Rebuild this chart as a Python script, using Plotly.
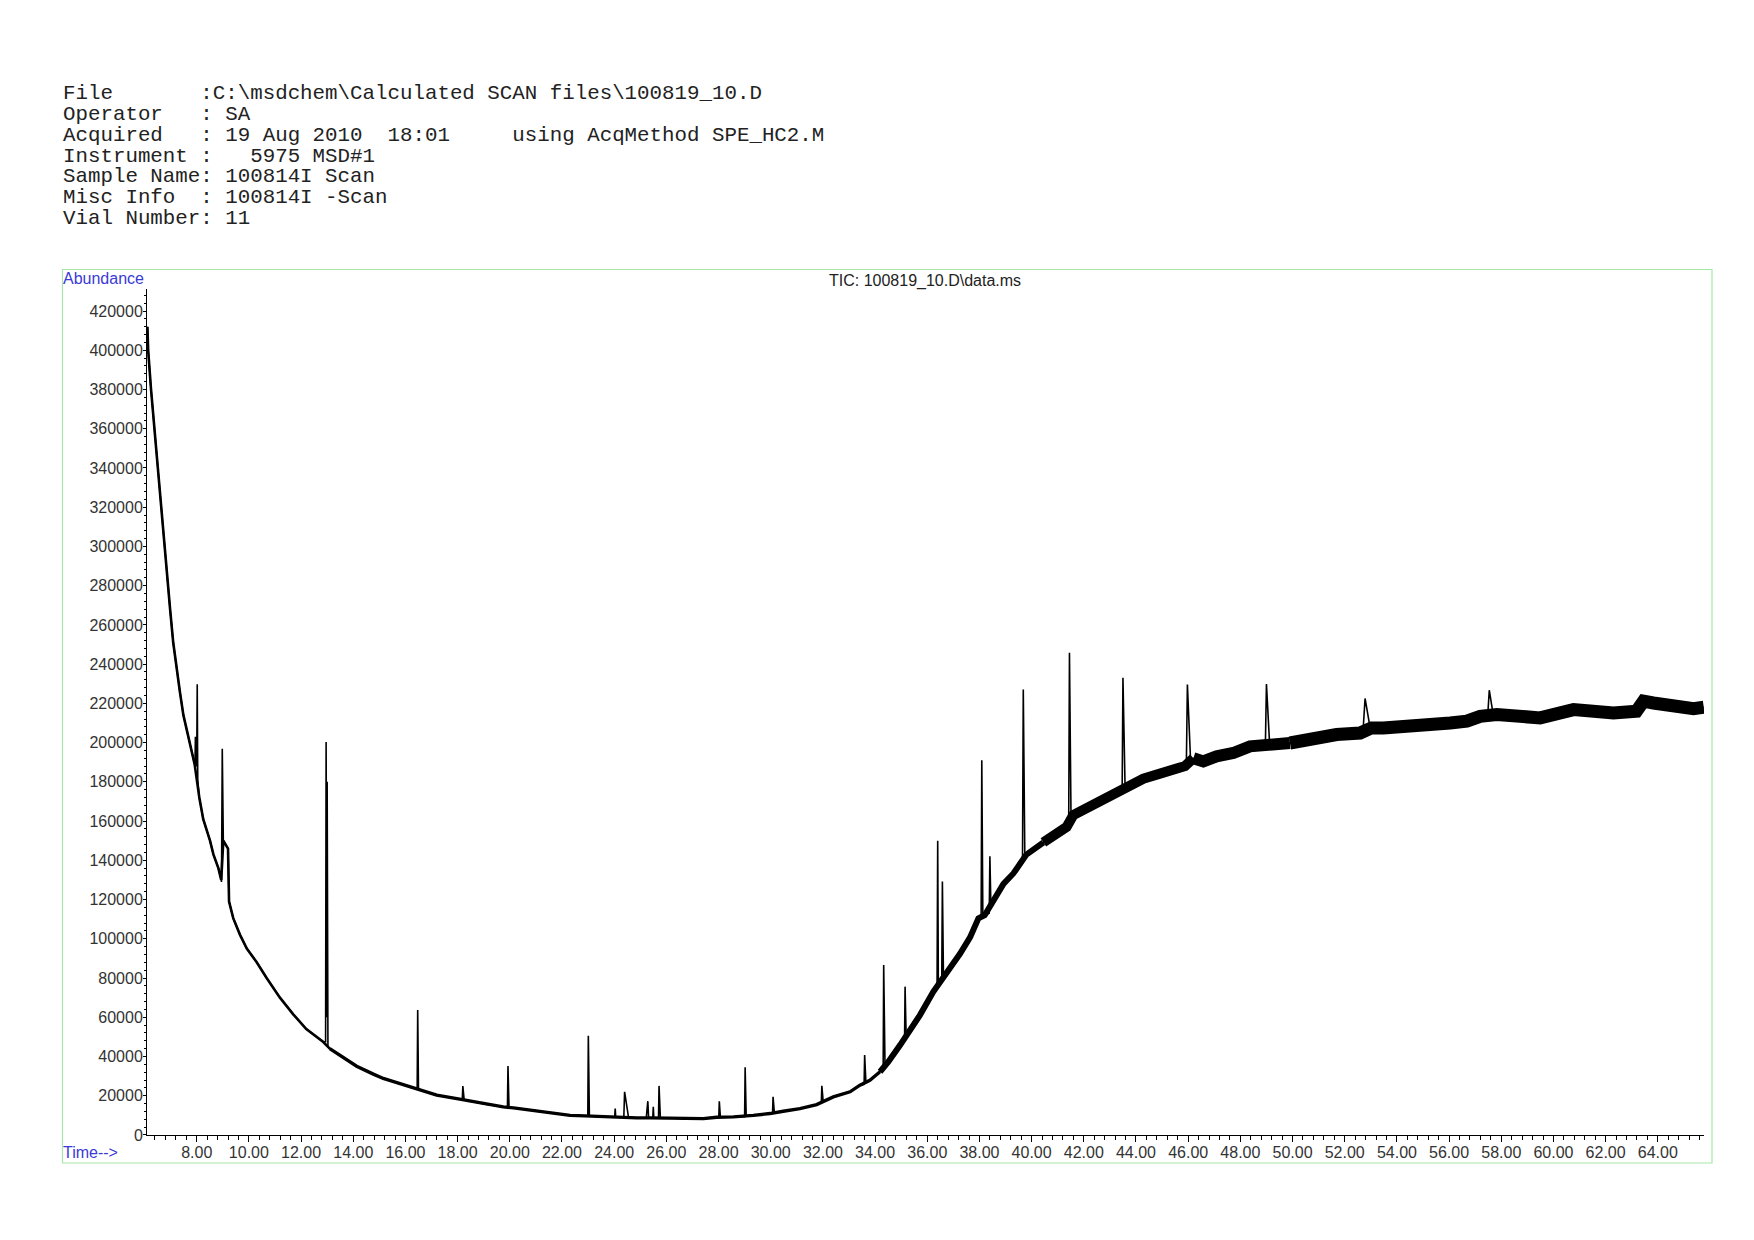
import plotly.graph_objects as go

PAGE_W, PAGE_H = 1754, 1240
BODY_MARGIN = 8                      # default HTML body margin
W, H = PAGE_W - 2 * BODY_MARGIN, PAGE_H - 2 * BODY_MARGIN
VSCALE = 1 / 0.991                   # measured vertical correction of the capture

# ---------------- data ----------------
# baseline (no peaks): retention time [min], abundance
t_base = [6.11, 6.14, 6.25, 6.40, 6.49, 6.59, 6.72, 6.85, 6.98, 7.10, 7.23, 7.36, 7.49, 7.62,
          7.81, 7.92, 8.10, 8.25, 8.38, 8.51, 8.64, 8.83, 8.94, 9.02, 9.20, 9.24, 9.40, 9.66,
          9.92, 10.30, 10.68, 11.19, 11.70, 12.20, 12.84, 13.10, 13.49, 14.13, 14.77, 15.15,
          15.67, 16.30, 16.60, 17.20, 17.97, 18.48, 19.12, 19.75, 20.14, 21.03, 21.67, 22.31,
          22.88, 23.58, 24.20, 24.86, 25.40, 26.14, 26.78, 27.42, 27.93, 28.57, 29.33, 29.97,
          30.48, 31.12, 31.76, 32.40, 33.04, 33.42, 33.80, 34.19, 34.51, 34.96, 35.27, 35.72,
          36.23, 36.50, 36.75, 37.26, 37.64, 37.96, 38.20, 38.53, 38.92, 39.30, 39.56, 39.80,
          40.45, 41.09, 41.34, 41.60, 42.37, 43.01, 43.39, 43.71, 44.28, 44.92, 45.56, 45.88,
          46.20, 46.58, 47.09, 47.73, 48.37, 48.88, 49.33, 49.90, 50.93, 51.69, 52.59, 53.03,
          53.48, 54.24, 55.14, 56.04, 56.68, 57.19, 57.83, 58.85, 59.49, 60.77, 61.41, 62.30,
          63.18, 63.45, 63.83, 64.60, 65.37, 65.76]
abund_base = [412000, 400000, 380000, 357000, 340000, 324000, 304000, 285000, 268000, 251000,
              237000, 225500, 214000, 206000, 195000, 189000, 172000, 161000, 155500, 150000,
              143000, 136000, 130000, 150000, 146000, 119000, 110500, 102000, 95000, 88000,
              80000, 70000, 61500, 54000, 47500, 44000, 40500, 35000, 31000, 28800, 26700,
              24000, 22800, 20300, 18500, 17200, 15500, 14300, 13800, 12300, 10900, 10000,
              9700, 9200, 9000, 8700, 8700, 8700, 8300, 8300, 9000, 9200, 10000, 10900,
              12100, 13400, 15500, 19400, 22000, 25400, 27900, 32200, 37300, 45800, 51700,
              61100, 73000, 78000, 83200, 92500, 100700, 110400, 112000, 119200, 128000,
              133300, 137700, 142900, 149100, 155200, 157000, 163100, 168400, 172800, 175400,
              179000, 181600, 184200, 186900, 188100, 192000, 190400, 193000, 194700, 198100,
              199000, 199000, 199800, 202400, 204100, 204900, 207500, 207500, 207800, 208800,
              210000, 210900, 213400, 214300, 213400, 212600, 216800, 216000, 215100, 216000,
              221100, 220200, 218000, 217300, 218000]

# peaks: apex time, apex abundance, baseline before / after, lead / tail width [min]
peak_time = [7.95, 8.02, 8.98, 12.96, 13.00, 16.47, 18.20, 19.93, 23.01, 24.04, 24.40, 25.29,
             25.50, 25.72, 28.03, 29.02, 30.09, 31.96, 33.60, 34.33, 35.15, 36.40, 36.58,
             38.09, 38.40, 39.68, 41.45, 43.50, 45.97, 49.00, 52.78, 57.54]
peak_top = [203000, 229700, 196900, 200300, 180000, 63700, 24900, 35100, 50500, 13400, 22000,
            17200, 14300, 25000, 17200, 34500, 19400, 25000, 40700, 86600, 75600, 150000,
            129200, 191000, 142000, 227000, 245800, 233100, 229600, 229900, 222500, 226700]
peak_base_left = [190000, 188000, 129000, 47500, 60000, 24000, 18400, 14100, 9700, 9100, 9000,
                  8700, 8700, 8700, 9000, 9300, 11000, 16400, 25800, 33500, 48000, 75000,
                  79000, 111000, 113000, 138500, 157500, 176000, 188500, 199200, 205500, 213500]
peak_base_right = [189000, 181000, 150000, 60000, 45000, 23000, 18000, 13900, 9700, 9000, 9000,
                   8700, 8700, 8700, 9100, 9600, 11300, 17000, 26500, 36000, 50500, 76500,
                   81000, 112000, 116000, 141500, 162000, 178500, 191500, 199500, 207000, 214300]
peak_lead = [0.015, 0.02, 0.03, 0.02, 0.012, 0.02, 0.02, 0.02, 0.02, 0.02, 0.03, 0.06, 0.02,
             0.02, 0.02, 0.02, 0.02, 0.02, 0.02, 0.02, 0.02, 0.025, 0.025, 0.025, 0.025, 0.03,
             0.03, 0.03, 0.04, 0.04, 0.08, 0.06]
peak_tail = [0.015, 0.02, 0.03, 0.012, 0.03, 0.03, 0.05, 0.04, 0.04, 0.02, 0.15, 0.03, 0.02,
             0.05, 0.04, 0.04, 0.05, 0.05, 0.05, 0.05, 0.04, 0.025, 0.04, 0.04, 0.04, 0.06,
             0.06, 0.08, 0.12, 0.12, 0.20, 0.15]

header_lines = [
    r"File       :C:\msdchem\Calculated SCAN files\100819_10.D",
    "Operator   : SA",
    "Acquired   : 19 Aug 2010  18:01     using AcqMethod SPE_HC2.M",
    "Instrument :   5975 MSD#1",
    "Sample Name: 100814I Scan",
    "Misc Info  : 100814I -Scan",
    "Vial Number: 11",
]
chart_title = r"TIC: 100819_10.D\data.ms"
y_label = "Abundance"
x_label = "Time-->"

# ---------------- build the signal ----------------
pts = list(zip(t_base, abund_base))
for t, top, bl, br, wl, wr in zip(peak_time, peak_top, peak_base_left, peak_base_right,
                                  peak_lead, peak_tail):
    pts += [(t - wl, bl), (t, top), (t + wr, br)]
pts.sort()
sig_t = [p[0] for p in pts]
sig_a = [p[1] for p in pts]

fig = go.Figure()

# noise band rendering (style): thicker stroke of the baseline where the trace is noisier
band_styles = [(6.0, 13.2, 2.6), (13.0, 34.3, 3.4), (34.0, 40.5, 6.0), (40.4, 46.3, 10.0),
               (46.1, 50.0, 12.0), (49.8, 66.0, 13.0)]
for lo, hi, w in band_styles:
    xs = [t for t in t_base if lo <= t <= hi]
    ys = [a for t, a in zip(t_base, abund_base) if lo <= t <= hi]
    fig.add_trace(go.Scatter(x=xs, y=ys, mode="lines",
                             line=dict(color="black", width=w), hoverinfo="skip",
                             showlegend=False))

fig.add_trace(go.Scatter(x=sig_t, y=sig_a, mode="lines",
                         line=dict(color="black", width=1.6), showlegend=False,
                         name="TIC"))


# ---------------- layout (page pixel -> paper coords) ----------------
def px_x(x):
    return (x - BODY_MARGIN) / W


def px_y(y):
    return 1 - (y * VSCALE - BODY_MARGIN) / H


tick_font = dict(family="Liberation Sans, Arial, sans-serif", size=16, color="#333333")

fig.update_layout(
    width=W, height=H,
    margin=dict(l=0, r=0, t=0, b=0),
    paper_bgcolor="white", plot_bgcolor="white",
    showlegend=False,
    xaxis=dict(domain=[px_x(147), px_x(1704)], range=[6.095, 65.77],
               tick0=8, dtick=2, tickformat=".2f", ticks="outside", ticklen=6,
               tickcolor="black", tickwidth=1, showline=True, linecolor="black",
               linewidth=1, showgrid=False, zeroline=False, tickfont=tick_font,
               minor=dict(dtick=0.4, ticks="outside", ticklen=4, tickcolor="black",
                          showgrid=False)),
    yaxis=dict(domain=[px_y(1133), px_y(288)], range=[0, 431460],
               tick0=0, dtick=20000, tickformat="d", ticks="outside", ticklen=3,
               tickcolor="black", tickwidth=1, showline=True, linecolor="black",
               linewidth=1, showgrid=False, zeroline=False, tickfont=tick_font,
               minor=dict(dtick=4000, ticks="outside", ticklen=2, tickcolor="black",
                          showgrid=False)),
)
# pull tick labels slightly closer to the axes (as in the reference)
try:
    fig.update_xaxes(ticklabelstandoff=-3)
    fig.update_yaxes(ticklabelstandoff=-3)
except (ValueError, TypeError):
    pass

# green frame
fig.add_shape(type="rect", xref="paper", yref="paper",
              x0=px_x(62.5), x1=px_x(1712), y0=px_y(1161), y1=px_y(269),
              line=dict(color="#a8e6a8", width=1.2), layer="below")

mono = dict(family="Liberation Mono, DejaVu Sans Mono, monospace", size=20.8, color="#222222")
for i, line in enumerate(header_lines):
    fig.add_annotation(xref="paper", yref="paper", x=px_x(61), y=px_y(93 + 20.9 * i),
                       xanchor="left", yanchor="middle", showarrow=False,
                       text=line.replace(" ", "\u00a0"), font=mono)

fig.add_annotation(xref="paper", yref="paper", x=px_x(925), y=px_y(280),
                   xanchor="center", yanchor="middle", showarrow=False, text=chart_title,
                   font=dict(family="Liberation Sans, Arial, sans-serif", size=16,
                             color="#222222"))
blue = dict(family="Liberation Sans, Arial, sans-serif", size=16, color="#3a3ad6")
fig.add_annotation(xref="paper", yref="paper", x=px_x(61), y=px_y(278), xanchor="left",
                   yanchor="middle", showarrow=False, text=y_label, font=blue)
fig.add_annotation(xref="paper", yref="paper", x=px_x(61), y=px_y(1151), xanchor="left",
                   yanchor="middle", showarrow=False, text=x_label, font=blue)

fig.write_html("out.html")
